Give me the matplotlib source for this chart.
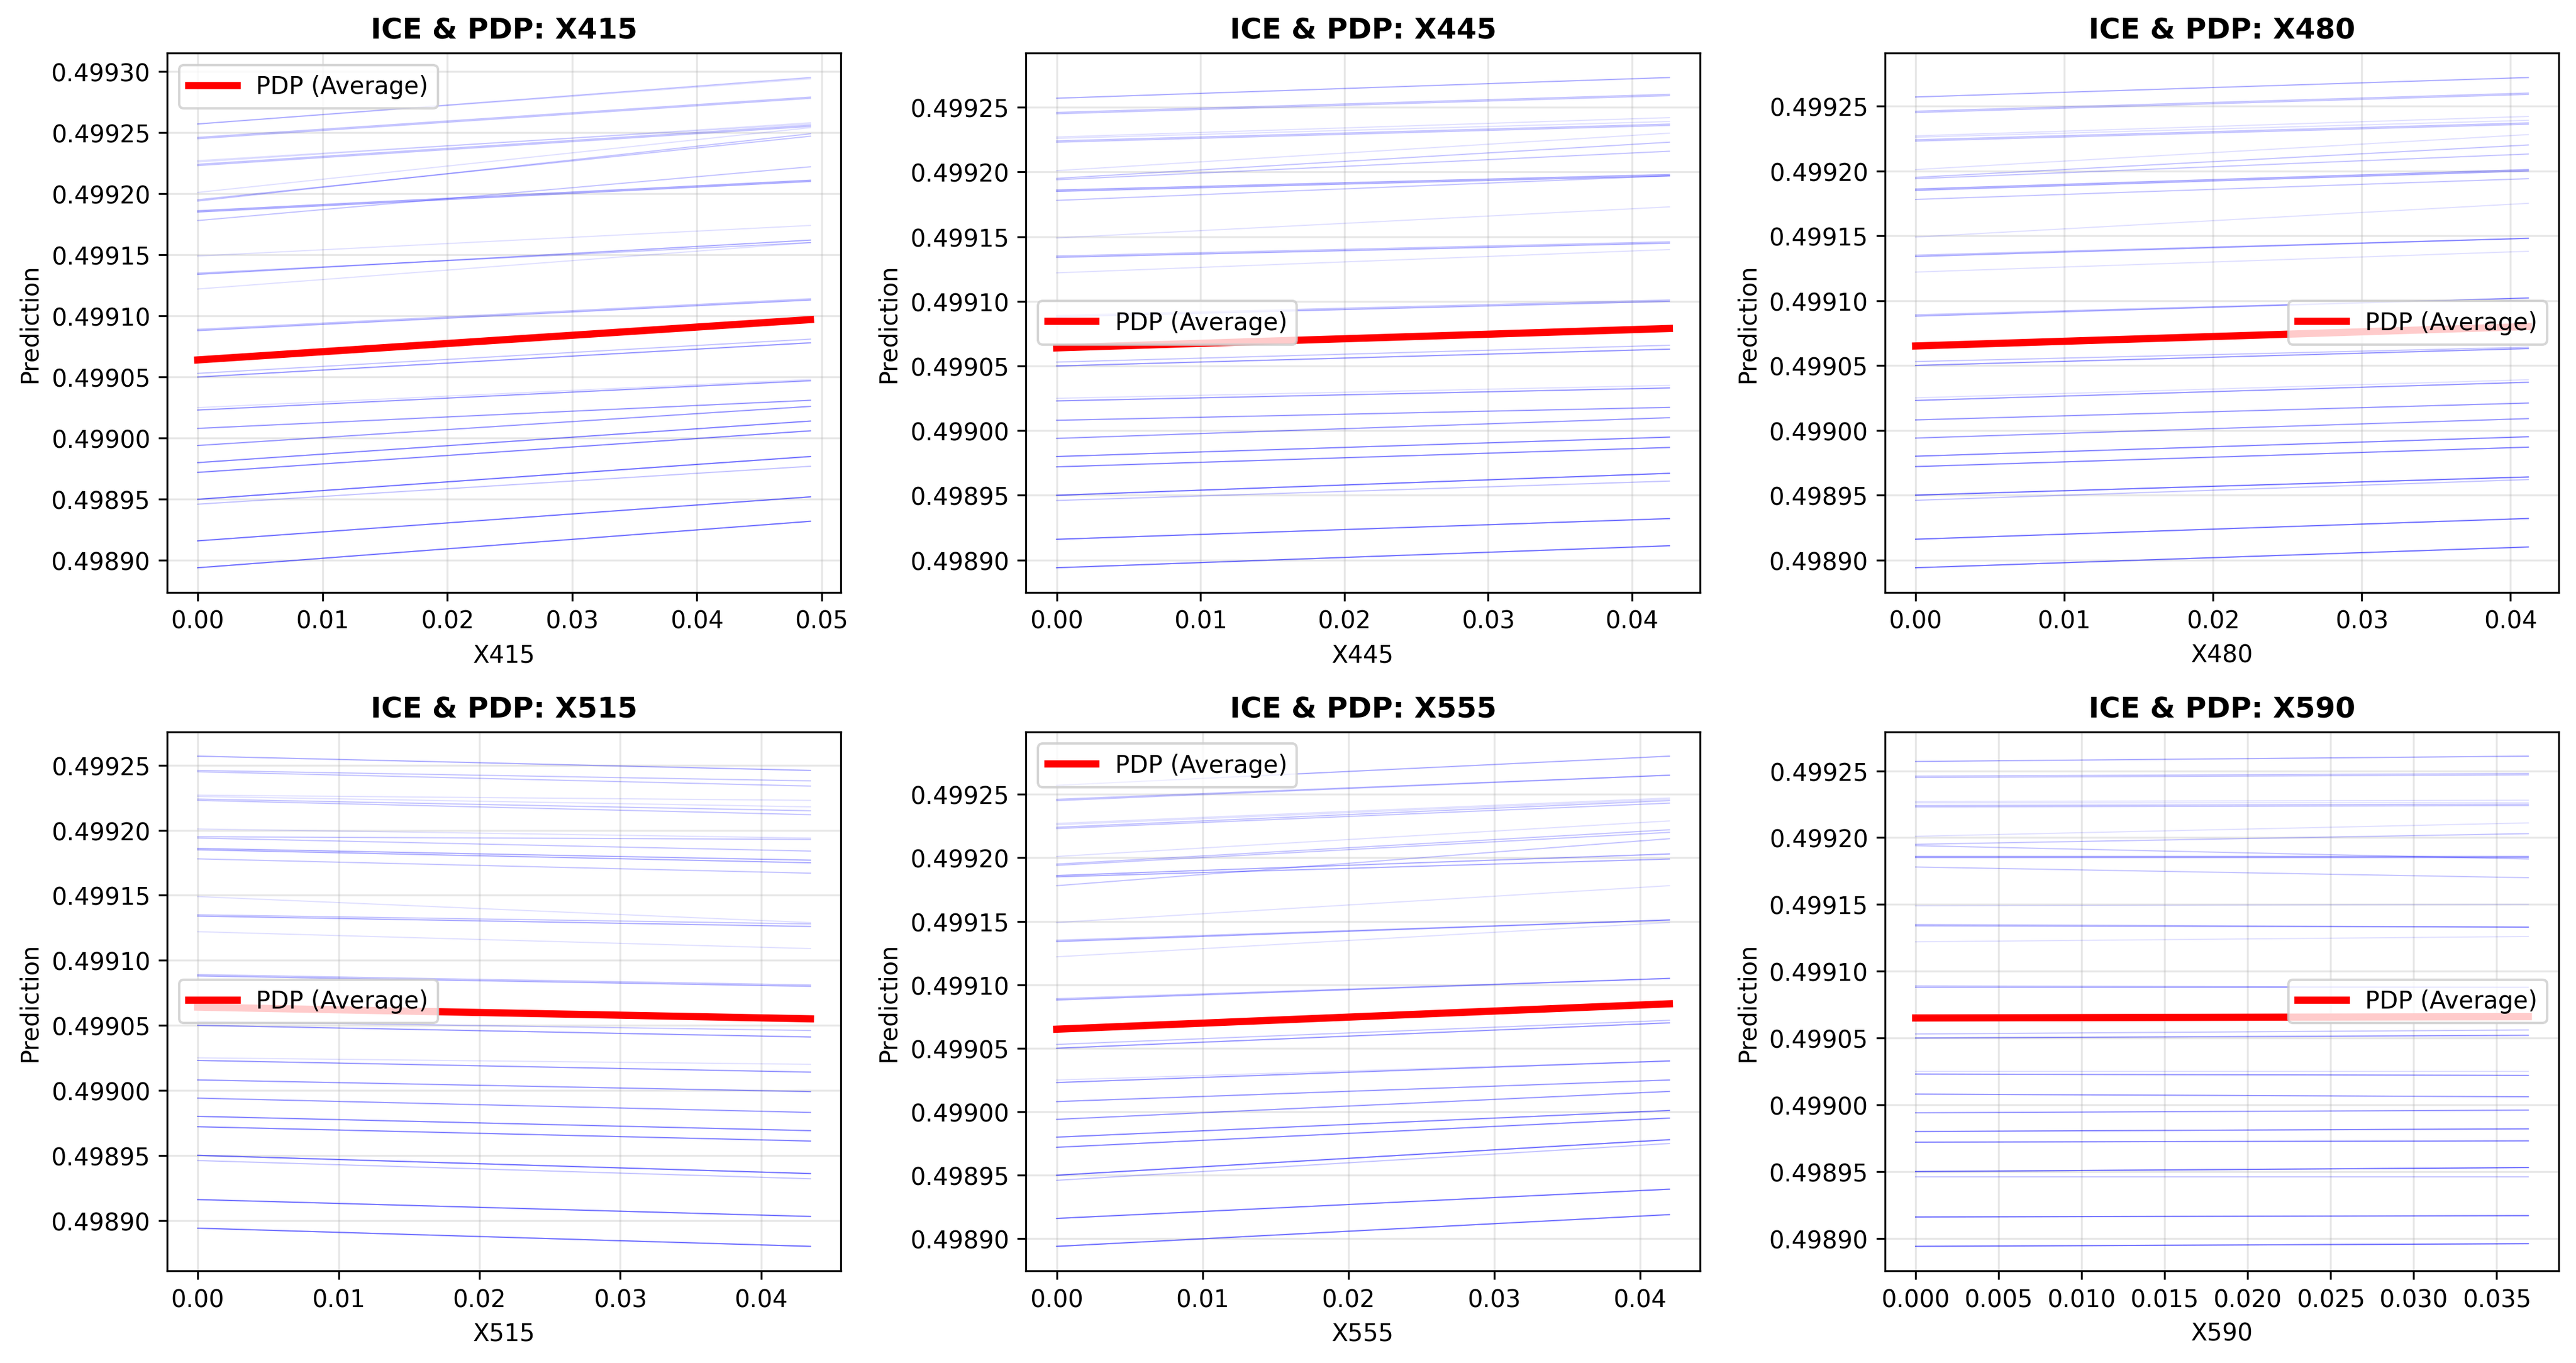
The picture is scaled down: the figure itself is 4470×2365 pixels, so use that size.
import numpy as np
import matplotlib.pyplot as plt

features = ["X415", "X445", "X480", "X515", "X555", "X590"]
x_max = [0.0491, 0.0426, 0.0412, 0.0435, 0.0420, 0.0369]

# prediction of each ICE curve at feature value 0 (same for all features)
ice_start = [0.498894, 0.498916, 0.498946, 0.498950, 0.498972, 0.498980, 0.498994, 0.499008,
             0.499023, 0.499025, 0.499050, 0.499053, 0.499088, 0.499089, 0.499122, 0.499134,
             0.499135, 0.499149, 0.499178, 0.499185, 0.499186, 0.499194, 0.499195, 0.499201,
             0.499223, 0.499224, 0.499226, 0.499227, 0.499245, 0.499246, 0.499257, 0.499257]
# number of samples sharing each curve
ice_count = [6, 6, 2, 6, 5, 5, 4, 4, 4, 1, 4, 2, 3, 2, 1, 3,
             2, 1, 2, 3, 3, 2, 2, 1, 2, 2, 1, 1, 2, 2, 2, 1]

# prediction at the largest feature value
ice_end_x415 = [0.498932, 0.498952, 0.498977, 0.498985, 0.499006, 0.499014, 0.499026, 0.499031,
                0.499047, 0.499048, 0.499078, 0.499081, 0.499113, 0.499114, 0.499160, 0.499162,
                0.499160, 0.499174, 0.499222, 0.499210, 0.499211, 0.499249, 0.499247, 0.499254,
                0.499255, 0.499256, 0.499258, 0.499257, 0.499278, 0.499279, 0.499295, 0.499294]
ice_end_x445 = [0.498911, 0.498932, 0.498961, 0.498967, 0.498987, 0.498995, 0.499010, 0.499018,
                0.499033, 0.499035, 0.499063, 0.499066, 0.499100, 0.499101, 0.499140, 0.499145,
                0.499146, 0.499173, 0.499197, 0.499197, 0.499198, 0.499216, 0.499223, 0.499230,
                0.499236, 0.499237, 0.499239, 0.499242, 0.499259, 0.499260, 0.499273, 0.499273]
ice_end_x480 = [0.498910, 0.498932, 0.498962, 0.498964, 0.498987, 0.498995, 0.499009, 0.499021,
                0.499037, 0.499039, 0.499063, 0.499064, 0.499102, 0.499102, 0.499138, 0.499148,
                0.499148, 0.499175, 0.499194, 0.499200, 0.499201, 0.499213, 0.499220, 0.499228,
                0.499236, 0.499237, 0.499239, 0.499242, 0.499259, 0.499260, 0.499272, 0.499272]
ice_end_x515 = [0.498880, 0.498903, 0.498932, 0.498936, 0.498961, 0.498969, 0.498983, 0.498999,
                0.499014, 0.499020, 0.499041, 0.499046, 0.499080, 0.499081, 0.499109, 0.499126,
                0.499128, 0.499129, 0.499167, 0.499175, 0.499177, 0.499184, 0.499193, 0.499194,
                0.499212, 0.499215, 0.499218, 0.499223, 0.499234, 0.499238, 0.499246, 0.499246]
ice_end_x555 = [0.498919, 0.498939, 0.498975, 0.498978, 0.498995, 0.499001, 0.499016, 0.499025,
                0.499040, 0.499040, 0.499070, 0.499072, 0.499105, 0.499105, 0.499149, 0.499151,
                0.499151, 0.499178, 0.499215, 0.499199, 0.499203, 0.499220, 0.499222, 0.499229,
                0.499243, 0.499245, 0.499246, 0.499247, 0.499265, 0.499265, 0.499280, 0.499280]
ice_end_x590 = [0.498896, 0.498917, 0.498946, 0.498953, 0.498973, 0.498982, 0.498996, 0.499006,
                0.499022, 0.499025, 0.499052, 0.499056, 0.499088, 0.499088, 0.499126, 0.499133,
                0.499133, 0.499150, 0.499170, 0.499185, 0.499186, 0.499184, 0.499203, 0.499211,
                0.499224, 0.499225, 0.499226, 0.499228, 0.499247, 0.499248, 0.499261, 0.499261]

pdp_start = [0.499064, 0.499064, 0.499065, 0.499064, 0.499065, 0.499065]
pdp_end = [0.499097, 0.499079, 0.499080, 0.499055, 0.499085, 0.499066]

ice_end = [ice_end_x415, ice_end_x445, ice_end_x480, ice_end_x515, ice_end_x555, ice_end_x590]
legend_loc = ["upper left", "center left", "center right", "center left", "upper left", "center right"]

fig, axes = plt.subplots(2, 3, figsize=(15, 8))
for i, ax in enumerate(axes.flat):
    grid = [0.0, x_max[i]]
    # ICE curves, one per sample
    for s, e, n in zip(ice_start, ice_end[i], ice_count):
        for _ in range(n):
            ax.plot(grid, [s, e], color="blue", alpha=0.12, linewidth=0.5)
    ax.plot(grid, [pdp_start[i], pdp_end[i]], color="red", linewidth=3, label="PDP (Average)")
    ax.set_title(f"ICE & PDP: {features[i]}", fontsize=12, fontweight="bold")
    ax.set_xlabel(features[i])
    ax.set_ylabel("Prediction")
    ax.legend(loc=legend_loc[i])
    ax.grid(True, alpha=0.3)

plt.tight_layout()
plt.savefig("out.png", dpi=300, bbox_inches="tight")
